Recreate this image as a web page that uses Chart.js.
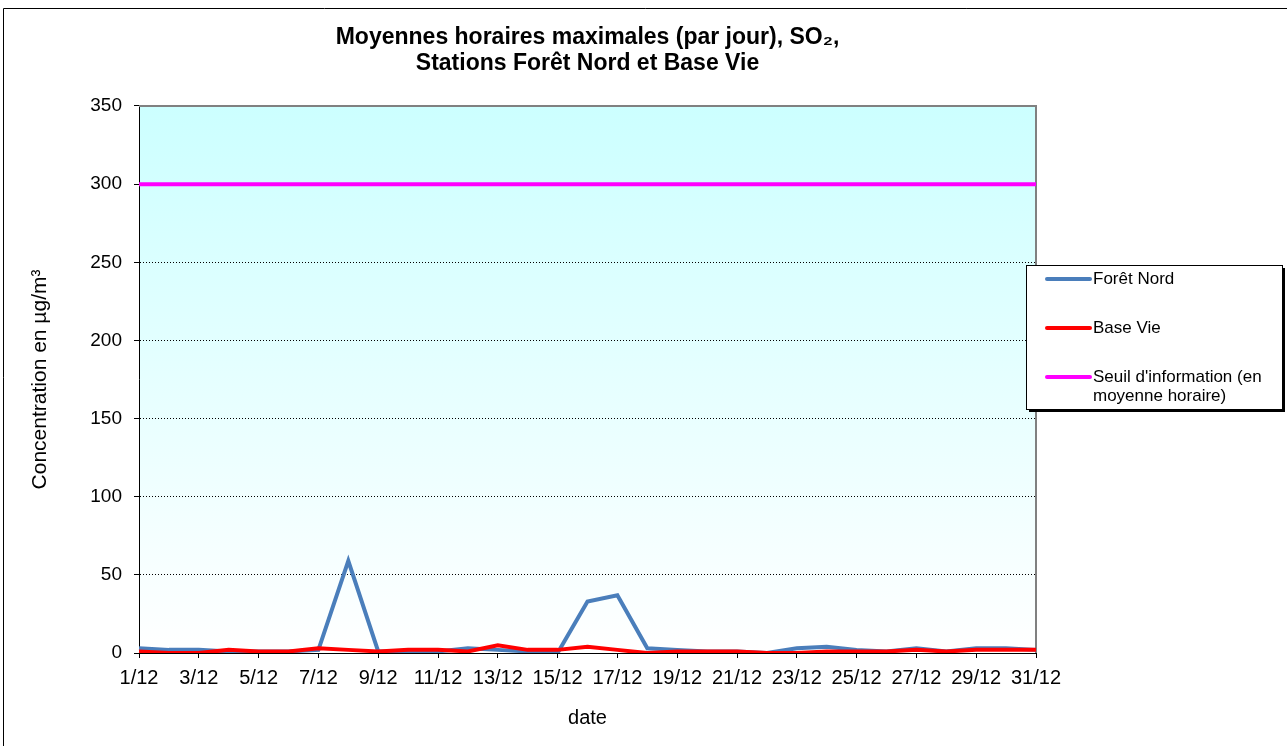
<!DOCTYPE html>
<html><head><meta charset="utf-8">
<script src="https://cdn.jsdelivr.net/npm/chart.js@4/dist/chart.umd.min.js"></script>
<style>html,body{margin:0;padding:0;background:#fff;overflow:hidden}canvas{display:block}</style>
</head><body>
<canvas id="c" width="1287" height="746"></canvas>
<script>
const categories = ['1/12','2/12','3/12','4/12','5/12','6/12','7/12','8/12','9/12','10/12','11/12','12/12','13/12','14/12','15/12','16/12','17/12','18/12','19/12','20/12','21/12','22/12','23/12','24/12','25/12','26/12','27/12','28/12','29/12','30/12','31/12'];
const foretNord = [3,2,2,1,1,1,2,59,1,1,1,3,2,1,0,33,37,3,2,1,1,0,3,4,2,1,3,1,3,3,2];
const baseVie   = [1,0,0,2,1,1,3,2,1,2,2,1,5,2,2,4,2,0,1,1,1,0,0,1,1,1,2,1,2,2,2];
const seuil     = [300,300,300,300,300,300,300,300,300,300,300,300,300,300,300,300,300,300,300,300,300,300,300,300,300,300,300,300,300,300,300];
const yTickValues = [0,50,100,150,200,250,300,350];
const titleLines = ['Moyennes horaires maximales (par jour), SO\u2082,', 'Stations For\u00eat Nord et Base Vie'];
const yTitle = 'Concentration en \u00b5g/m\u00b3';
const xTitle = 'date';
const seriesNames = ['For\u00eat Nord', 'Base Vie', "Seuil d'information (en moyenne horaire)"];
const legendLines = [['For\u00eat Nord'], ['Base Vie'], ["Seuil d'information (en", 'moyenne horaire)']];

const FONT = "'Liberation Sans', Arial, sans-serif";

const decor = {
  id: 'decor',
  beforeDraw(chart) {
    const {ctx, chartArea: a, width, height} = chart;
    ctx.save();
    ctx.fillStyle = '#fff';
    ctx.fillRect(0, 0, width, height);
    ctx.strokeStyle = '#000';
    ctx.lineWidth = 1;
    ctx.beginPath();
    ctx.moveTo(3.5, height); ctx.lineTo(3.5, 8.5); ctx.lineTo(width, 8.5);
    ctx.stroke();
    const g = ctx.createLinearGradient(0, a.top, 0, a.bottom);
    g.addColorStop(0, '#CCFFFF');
    g.addColorStop(1, '#FFFFFF');
    ctx.fillStyle = g;
    ctx.fillRect(a.left, a.top, a.right - a.left, a.bottom - a.top);
    ctx.restore();
  },
  beforeDatasetsDraw(chart) {
    const {ctx, chartArea: a} = chart;
    ctx.save();
    ctx.strokeStyle = '#808080';
    ctx.lineWidth = 2;
    ctx.beginPath();
    ctx.moveTo(a.left, a.top); ctx.lineTo(a.right, a.top); ctx.lineTo(a.right, a.bottom);
    ctx.stroke();
    ctx.restore();
  },
  afterDraw(chart) {
    const {ctx} = chart;
    const bx = 1026, by = 265, bw = 256, bh = 144;
    ctx.save();
    ctx.fillStyle = '#000';
    ctx.fillRect(bx + 3, by + 3, bw, bh);
    ctx.fillStyle = '#fff';
    ctx.fillRect(bx, by, bw, bh);
    ctx.strokeStyle = '#000';
    ctx.lineWidth = 1;
    ctx.strokeRect(bx + 0.5, by + 0.5, bw, bh);
    ctx.font = '17px ' + FONT;
    ctx.textBaseline = 'middle';
    ctx.textAlign = 'left';
    const ys = [279, 328, 377];
    chart.data.datasets.forEach((ds, i) => {
      const y = ys[i];
      ctx.strokeStyle = ds.borderColor;
      ctx.lineWidth = 4;
      ctx.lineCap = 'round';
      ctx.beginPath(); ctx.moveTo(1047, y); ctx.lineTo(1090, y); ctx.stroke();
      ctx.fillStyle = '#000';
      legendLines[i].forEach((t, k) => ctx.fillText(t, 1093, y + k * 19));
    });
    ctx.restore();
  }
};

new Chart(document.getElementById('c'), {
  type: 'line',
  data: {
    labels: categories,
    datasets: [
      {label: seriesNames[0], data: foretNord, borderColor: '#4A7EBB', backgroundColor: '#4A7EBB', borderWidth: 4, pointRadius: 0, tension: 0, order: 2},
      {label: seriesNames[1], data: baseVie, borderColor: '#FF0000', backgroundColor: '#FF0000', borderWidth: 4, pointRadius: 0, tension: 0, order: 1},
      {label: seriesNames[2], data: seuil, borderColor: '#FF00FF', backgroundColor: '#FF00FF', borderWidth: 4, pointRadius: 0, tension: 0, order: 0}
    ]
  },
  options: {
    responsive: false,
    animation: false,
    devicePixelRatio: 1,
    layout: {padding: {left: 0, right: 251, top: 0, bottom: 0}},
    plugins: {
      legend: {display: false},
      tooltip: {enabled: false},
      title: {
        display: true, text: titleLines, fullSize: false, color: '#000',
        font: {family: FONT, size: 23, weight: 'bold', lineHeight: 1.13},
        padding: {top: 25, bottom: 29}
      }
    },
    scales: {
      x: {
        type: 'category',
        offset: false,
        grid: {drawOnChartArea: false, drawTicks: true, tickLength: 5,
               tickColor: (c) => (c.index % 2 === 0 ? '#000' : 'rgba(0,0,0,0)')},
        border: {display: true, color: '#000', width: 1},
        ticks: {autoSkip: false, maxRotation: 0, minRotation: 0, padding: 8, color: '#000',
                font: {family: FONT, size: 20},
                callback: function(v, i) { return i % 2 === 0 ? this.getLabelForValue(v) : ''; }},
        title: {display: true, text: xTitle, color: '#000', font: {family: FONT, size: 20}, padding: {top: 4, bottom: 16}},
        afterFit: (s) => { s.height = 93; }
      },
      y: {
        min: yTickValues[0], max: yTickValues[yTickValues.length - 1],
        afterBuildTicks: (s) => { s.ticks = yTickValues.map(v => ({value: v})); },
        grid: {drawTicks: true, tickLength: 5, tickColor: '#000',
               color: (c) => (c.tick && c.tick.value > 0 && c.tick.value < 350 ? '#000' : 'rgba(0,0,0,0)'), lineWidth: 1},
        border: {display: true, color: '#000', width: 1, dash: [1, 2]},
        ticks: {padding: 12, color: '#000', font: {family: FONT, size: 19}},
        title: {display: true, text: yTitle, color: '#000', font: {family: FONT, size: 21}, padding: {top: 28, bottom: 0}},
        afterFit: (s) => { s.width = 139; }
      }
    }
  },
  plugins: [decor]
});
</script>
</body></html>
